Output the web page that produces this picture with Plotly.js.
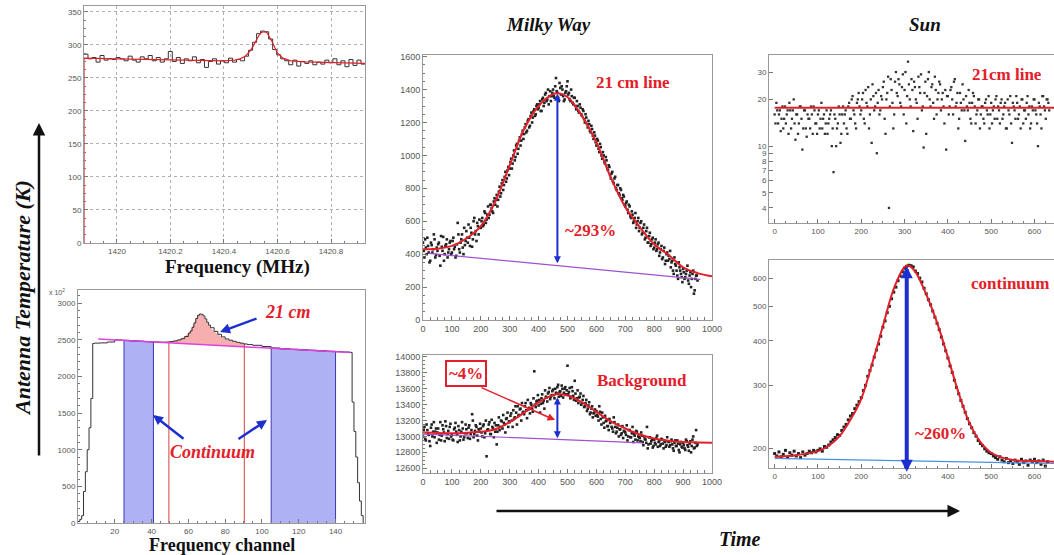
<!DOCTYPE html>
<html><head><meta charset="utf-8">
<script src="https://cdn.plot.ly/plotly-3.0.1.min.js"></script>
<style>html,body{margin:0;padding:0;background:#fff}#chart{width:1054px;height:555px}</style>
</head><body><div id="chart"></div>
<script>
// ---------- Panel 1: spectrum (MHz) ----------
const specStart = 1419.877, specBin = 0.015;
const specCounts = [286,279,281,274,284,277,279,278,281,279,276,283,277,274,282,279,284,276,281,274,279,290,275,281,272,279,276,282,273,278,266,275,279,271,276,273,280,274,278,276,283,292,304,317,321,320,309,293,285,279,276,270,277,268,275,272,276,270,274,271,277,273,279,270,276,267,278,269,277,271];
const specFitFreq = [1419.877,1419.877,1420.0,1420.2,1420.4,1420.44,1420.46,1420.48,1420.5,1420.51,1420.52,1420.53,1420.54,1420.55,1420.56,1420.57,1420.58,1420.59,1420.6,1420.62,1420.65,1420.7,1420.8,1420.927];
const specFitVal  = [0,280,279,277.5,276,277,279,283,292,299,307,314,319,320,319,313,305,296,288,280,276,274.5,273.5,272];
const freqTicks = [1420,1420.2,1420.4,1420.6,1420.8];

// ---------- Panel 2: frequency channels ----------
const chan = [0,1,2,3,4,5,6,7,8,9,12,16,20,24,28,32,36,40,44,46,48,50,52,54,56,58,60,61,62,63,64,65,66,67,68,69,70,71,72,74,76,78,80,82,84,86,88,90,92,95,100,105,110,115,120,125,130,135,140,144,148,149,150,151,152,153,154,155];
const chanVal = [20,50,100,430,700,1000,1300,1700,2450,2455,2458,2470,2498,2493,2487,2482,2476,2471,2468,2468,2470,2476,2485,2498,2515,2545,2590,2620,2670,2730,2790,2835,2852,2848,2825,2785,2740,2700,2665,2615,2575,2540,2512,2495,2480,2466,2455,2444,2435,2425,2408,2388,2378,2371,2364,2358,2351,2344,2338,2333,2328,1650,1250,900,550,300,100,0];
const lineCh = [49,50,52,54,56,58,60,61,62,63,64,65,66,67,68,69,70,71,72,74,76,78,80,82,84,86,88,90,91,91,49];
const lineVal = [2472,2476,2485,2498,2515,2545,2590,2620,2670,2730,2790,2835,2852,2848,2825,2785,2740,2700,2665,2615,2575,2540,2512,2495,2480,2466,2455,2444,2440,2404,2460];
const contLCh = [25,25,28,32,36,41,41];
const contLVal = [0,2493,2487,2482,2476,2470,0];
const contRCh = [105,105,110,115,120,125,130,135,140,140];
const contRVal = [0,2388,2378,2371,2364,2358,2351,2344,2338,0];
const windowCh = [49.4,49.4,null,90.4,90.4];
const windowVal = [0,2474,null,0,2442];
const chanBaseCh = [11,148];
const chanBaseVal = [2510,2328];
const chanTicks = [20,40,60,80,100,120,140];

// ---------- Panel 3: Milky Way 21 cm line (samples every 5, two interleaved sets) ----------
const mwStep = 5;
const mwLineA = [470,380,440,500,410,360,455,430,490,395, 420,470,330,445,505,400,460,380,430,480, 410,500,445,390,590,430,470,520,400,455, 540,470,500,560,445,600,520,480,570,610, 560,620,580,650,610,690,640,700,660,720, 700,760,730,810,770,850,820,900,860,930, 920,980,950,1030,990,1070,1040,1110,1090,1150, 1130,1190,1150,1220,1180,1260,1230,1280,1250,1310, 1290,1330,1270,1350,1320,1380,1340,1310,1390,1360, 1400,1350,1470,1380,1330,1410,1420,1360,1340,1390, 1450,1380,1330,1360,1310,1350,1280,1300,1260,1290, 1240,1270,1200,1230,1170,1190,1140,1160,1100,1120, 1060,1090,1020,1050,980,1000,950,970,910,930, 860,900,830,870,790,820,760,790,730,750, 690,720,650,690,620,640,600,650,580,620, 560,600,530,580,500,560,470,530,460,500, 440,490,430,470,410,450,380,440,360,410, 390,420,350,300,380,330,270,350,300,260, 310,250,280,330,220,290,250,300,180,270,240];
const mwLineB = [420,490,400,450,350,470,410,520,380,440, 460,390,510,420,360,450,490,410,470,400, 480,430,380,460,520,410,490,440,560,480, 500,580,450,530,490,620,540,590,520,560, 600,570,660,590,640,620,700,680,650,740, 730,690,780,750,830,790,870,840,910,880, 960,920,1000,970,1060,1010,1090,1060,1130,1100, 1170,1140,1210,1170,1240,1200,1270,1240,1300,1280, 1310,1270,1340,1300,1370,1330,1400,1360,1330,1380, 1360,1420,1390,1350,1440,1370,1400,1330,1380,1420, 1370,1340,1400,1320,1350,1300,1330,1270,1310,1250, 1280,1220,1250,1190,1210,1150,1180,1120,1140,1080, 1100,1040,1070,1000,1020,960,990,920,940,880, 890,840,860,800,820,770,800,740,760,700, 710,670,700,630,660,590,620,560,600,540, 590,520,560,490,540,470,510,450,490,430, 470,420,460,390,430,370,420,340,400,360, 370,320,360,280,340,300,250,320,280,230, 290,260,300,240,270,200,280,160,250,270];
const mwFitT = [0,50,100,150,200,250,300,350,400,450,468,500,550,600,650,700,750,800,850,900,950,1000];
const mwFitV = [430,433,450,495,570,720,940,1160,1300,1372,1377,1355,1240,1080,865,685,565,460,395,320,285,265];
const mwBaseT = [20,960];
const mwBaseV = [405,247];
const mwArrow = {t:465, lo:335, hi:1375};

// ---------- Panel 4: Milky Way background ----------
const bgLineA = [13000,13120,12950,13080,13020,12880,13150,13060,12990,13100, 13050,12960,13180,13010,13090,12940,13130,13030,12970,13160, 13020,12950,13110,13060,12930,13080,13000,13180,12960,13040, 13090,12980,13140,13030,13280,12990,13070,13120,12950,13060, 13100,13000,13150,13040,12750,13090,13180,13030,13120,12990, 13060,12900,13140,13080,13200,13100,13170,13050,13230,13120, 13180,13290,13120,13220,13380,13150,13260,13340,13200,13300, 13280,13420,13230,13340,13290,13400,13310,13820,13370,13450, 13390,13300,13480,13420,13350,13500,13440,13560,13470,13520, 13590,13480,13550,13620,13500,13570,13640,13490,13600,13530, 13890,13560,13480,13620,13510,13700,13450,13580,13490,13540, 13420,13510,13380,13460,13350,13430,13300,13380,13290,13340, 13320,13250,13380,13220,13300,13170,13260,13200,13130,13220, 13180,13100,13240,13120,13060,13150,13090,13020,13130,13070, 13050,13140,13000,13080,12990,13120,13030,12960,13060,13000, 12980,13050,12930,13000,12960,13120,12900,12990,12940,12860, 12960,12900,13010,12930,12880,12970,12910,12950,12870,12990, 12930,12890,12960,12850,12920,12880,12950,12830,12900,12870, 12920,12850,12960,12890,12820,12940,12880,13000,12860,13080,12900];
const bgLineB = [13080,12970,13150,13030,12940,13110,13000,13180,13060,12920, 13100,13020,12950,13140,13050,13190,12980,13070,13120,13000, 12960,13090,13170,13020,13130,12950,13060,13100,12990,13150, 13040,13110,12970,13080,13200,13030,13140,13010,13090,13160, 13050,13130,12990,13200,13080,13150,13030,13210,13100,13170, 13140,13060,13240,13120,13190,13270,13150,13220,13300,13190, 13260,13200,13330,13240,13300,13380,13270,13350,13420,13310, 13380,13330,13460,13360,13420,13350,13480,13400,13440,13520, 13460,13410,13530,13450,13580,13490,13540,13610,13500,13570, 13520,13600,13540,13650,13560,13510,13600,13550,13620,13580, 13530,13610,13500,13570,13460,13540,13480,13420,13500,13400, 13460,13370,13420,13320,13390,13280,13350,13240,13300,13260, 13270,13200,13310,13150,13240,13110,13190,13130,13080,13170, 13120,13060,13180,13040,13110,13000,13090,13040,12980,13060, 13020,12950,13080,12990,13040,12930,13010,13070,12950,12990, 12940,13010,12890,12970,12920,12850,12990,12910,12960,12880, 12920,12980,12870,12940,12900,12960,12850,12930,12890,12940, 12870,12940,12900,12820,12950,12880,12910,12800,12930,12860, 12890,12830,12940,12870,12910,12800,12960,12850,12920,12880];
const bgFitT = [0,100,200,250,300,350,400,450,470,500,550,600,650,700,750,800,850,900,950,1000];
const bgFitV = [13050,13040,13060,13090,13180,13300,13430,13520,13535,13515,13430,13310,13190,13100,13025,12975,12945,12930,12925,12920];
const bgBaseT = [0,760];
const bgBaseV = [13030,12920];
const bgArrow = {t:465, lo:12960, hi:13490};

// ---------- Panel 5: Sun 21 cm line (log), samples every 4, two interleaved sets ----------
const sunStep = 4;
const sunLineA = [16,19,14,17,15,13,18,16,12,17, 15,20,11,16,14,18,9.5,17,13,16, 15,18,12,17,14,16,13,19,15,12, 17,14,16,10,6.8,15,13,18,10.5,16, 14,17,12,19,15,21,16,13,20,18, 17,22,14,19,24,16,10.5,21,18,9, 23,17,20,26,12,22,4,27,19,16, 30,21,25,18,29,23,14,35,20,27, 12.5,24,19,28,22,17,9.8,26,21,30, 18,25,15,23,20,26,17,22,14,9.5, 21,18,24,16,27,19,13,22,17,20, 10.8,18,23,15,19,21,14,17,20,16, 18,14,20,16,13,19,17,15,21,18, 14,20,16,19,13,17,21,10.5,18,15, 19,16,13,20,17,15,21,18,14,17, 20,16,10,18,13,21,17,20,19];
const sunLineB = [14,17,16,12.5,18,15,14,17,19,13, 17,14,16,12,18,15,13,17,11.5,15, 13,16,18,14,12,17,15,13,16,14, 12,15,17,13,16,10,14,16,12,18, 16,13,18,15,20,17,14,19,22,16, 20,15,23,18,13,20,25,17,22,19, 16,21,24,15,20,28,18,23,13,26, 22,27,19,24,16,30,21,25,18,23, 26,20,15,24,29,18,22,12,27,20, 24,19,28,16,22,25,20,18,23,21, 16,23,20,26,18,22,15,19,25,17, 21,17,19,14,22,18,16,20,13,18, 15,19,17,21,16,14,18,20,15,17, 19,15,18,13,20,16,14,19,17,21, 15,18,20,14,17,19,16,13,18,20, 17,14,19,16,21,18,15,20,17];
const sunLineFitT = [0,645];
const sunLineFitV = [17.7,17.7];

// ---------- Panel 6: Sun continuum (log) ----------
const sunCStep = 5;
const sunCont = [193,190,195,189,192,197,188,194,191,196, 190,193,188,195,191,193,196,194,197,195, 197,199,196,202,201,204,208,211,214,218, 217,224,229,233,240,246,250,258,264,270, 277,290,300,318,330,342,360,377,392,412, 437,455,480,500,525,548,566,590,608,625, 640,648,652,650,645,628,618,600,585,562, 542,522,505,485,466,448,430,410,392,375, 358,340,326,310,296,284,272,262,252,242, 234,228,221,216,210,206,203,199,196,194, 193,190,188,186,189,185,183,187,182,184, 181,185,183,180,186,182,184,179,185,183, 186,182,184,180,185,178,183];
const sunFitT = [0,50,100,125,150,175,200,225,250,275,300,310,325,350,375,400,425,450,475,500,550,600,645];
const sunFitV = [189,191,196,203,216,240,275,345,440,560,645,650,625,540,450,360,285,235,208,194,185,184,183];
const sunBaseT = [0,645];
const sunBaseV = [187,181];
const sunArrow = {t:305, lo:170, hi:648};

// ---------- build ----------
const W = 1054, H = 555;
const px = x => x / W, py = y => 1 - y / H;
const dx = (a, b) => [a / W, b / W];
const dy = (top, bot) => [1 - bot / H, 1 - top / H];
const idx = (arr, step, off) => arr.map((_, i) => (off || 0) + i * step);

const specEdges = specCounts.map((_, i) => specStart + i * specBin).concat([specStart + specCounts.length * specBin]);
const specStepVals = specCounts.concat([specCounts[specCounts.length - 1]]);

const RED = '#e3202a', BLUE = '#1e2fd0';
const tickfont = {family: 'Liberation Sans, Arial, sans-serif', size: 8, color: '#555'};
const serif = 'Liberation Serif, Times New Roman, serif';
const dot = (c, s) => ({color: c, size: s, symbol: 'square'});

const traces = [
  // P1
  {x: specEdges, y: specStepVals, xaxis: 'x', yaxis: 'y', mode: 'lines', line: {color: '#333', width: 1, shape: 'hv'}},
  {x: specFitFreq, y: specFitVal, xaxis: 'x', yaxis: 'y', mode: 'lines', line: {color: RED, width: 1.2}},
  // P2
  {x: contLCh, y: contLVal, xaxis: 'x2', yaxis: 'y2', mode: 'lines', fill: 'toself', fillcolor: 'rgba(120,125,235,0.6)', line: {color: '#3a3ab0', width: 1}},
  {x: contRCh, y: contRVal, xaxis: 'x2', yaxis: 'y2', mode: 'lines', fill: 'toself', fillcolor: 'rgba(120,125,235,0.6)', line: {color: '#3a3ab0', width: 1}},
  {x: lineCh, y: lineVal, xaxis: 'x2', yaxis: 'y2', mode: 'lines', fill: 'toself', fillcolor: 'rgba(240,120,120,0.6)', line: {color: 'rgba(0,0,0,0)', width: 0}},
  {x: windowCh, y: windowVal, xaxis: 'x2', yaxis: 'y2', mode: 'lines', line: {color: '#d84040', width: 1}},
  {x: chan, y: chanVal, xaxis: 'x2', yaxis: 'y2', mode: 'lines', line: {color: '#333', width: 1, shape: 'hv'}},
  {x: chanBaseCh, y: chanBaseVal, xaxis: 'x2', yaxis: 'y2', mode: 'lines', line: {color: '#e040e0', width: 1.5}},
  // P3
  {x: idx(mwLineA, mwStep), y: mwLineA, xaxis: 'x3', yaxis: 'y3', mode: 'markers', marker: dot('#222', 2.6)},
  {x: idx(mwLineB, mwStep, 2.5), y: mwLineB, xaxis: 'x3', yaxis: 'y3', mode: 'markers', marker: dot('#222', 2.6)},
  {x: mwBaseT, y: mwBaseV, xaxis: 'x3', yaxis: 'y3', mode: 'lines', line: {color: '#a050d0', width: 1.2}},
  {x: mwFitT, y: mwFitV, xaxis: 'x3', yaxis: 'y3', mode: 'lines', line: {color: RED, width: 2, shape: 'spline'}},
  // P4
  {x: idx(bgLineA, mwStep), y: bgLineA, xaxis: 'x4', yaxis: 'y4', mode: 'markers', marker: dot('#222', 2.6)},
  {x: idx(bgLineB, mwStep, 2.5), y: bgLineB, xaxis: 'x4', yaxis: 'y4', mode: 'markers', marker: dot('#222', 2.6)},
  {x: bgBaseT, y: bgBaseV, xaxis: 'x4', yaxis: 'y4', mode: 'lines', line: {color: '#a050d0', width: 1.2}},
  {x: bgFitT, y: bgFitV, xaxis: 'x4', yaxis: 'y4', mode: 'lines', line: {color: RED, width: 2, shape: 'spline'}},
  // P5
  {x: idx(sunLineA, sunStep), y: sunLineA, xaxis: 'x5', yaxis: 'y5', mode: 'markers', marker: dot('#333', 2.3)},
  {x: idx(sunLineB, sunStep, 2), y: sunLineB, xaxis: 'x5', yaxis: 'y5', mode: 'markers', marker: dot('#333', 2.3)},
  {x: sunLineFitT, y: sunLineFitV, xaxis: 'x5', yaxis: 'y5', mode: 'lines', line: {color: RED, width: 2}},
  // P6
  {x: idx(sunCont, sunCStep), y: sunCont, xaxis: 'x6', yaxis: 'y6', mode: 'markers', marker: dot('#222', 3)},
  {x: sunBaseT, y: sunBaseV, xaxis: 'x6', yaxis: 'y6', mode: 'lines', line: {color: '#4a90e0', width: 1.2}},
  {x: sunFitT, y: sunFitV, xaxis: 'x6', yaxis: 'y6', mode: 'lines', line: {color: RED, width: 2, shape: 'spline'}}
];

function axis(domain, range, anchor, extra) {
  return Object.assign({
    domain: domain, range: range, anchor: anchor, showline: true, mirror: true,
    linecolor: '#999', linewidth: 1, zeroline: false, showgrid: false,
    ticks: 'inside', ticklen: 4, tickcolor: '#777', tickfont: tickfont, fixedrange: true
  }, extra || {});
}
const grid = {showgrid: true, gridcolor: '#b0b0b0', griddash: 'dot', gridwidth: 1};
const f9 = Object.assign({}, tickfont, {size: 9});

const layout = {
  width: W, height: H, margin: {l: 0, r: 0, t: 0, b: 0},
  paper_bgcolor: '#fff', plot_bgcolor: '#fff', showlegend: false,
  xaxis: axis(dx(84, 365), [1419.877, 1420.927], 'y', Object.assign({tickvals: freqTicks, ticktext: freqTicks.map(String), minor: {ticks: 'inside', ticklen: 2, dtick: 0.05, tick0: 1420, tickcolor: '#777'}}, grid)),
  yaxis: axis(dy(6, 243), [0, 359], 'x', Object.assign({dtick: 50, minor: {ticks: 'inside', ticklen: 2, dtick: 12.5, tickcolor: '#777'}}, grid)),
  xaxis2: axis(dx(78, 365), [0, 156], 'y2', {tickvals: chanTicks, ticklabelstandoff: 0, minor: {ticks: 'inside', ticklen: 2, dtick: 5, tickcolor: '#777'}}),
  yaxis2: axis(dy(290, 523), [0, 3180], 'x2', {dtick: 500, tickformat: 'd', minor: {ticks: 'inside', ticklen: 2, dtick: 100, tickcolor: '#777'}}),
  xaxis3: axis(dx(423, 712), [0, 1000], 'y3', {dtick: 100, tickfont: f9, minor: {ticks: 'inside', ticklen: 3, dtick: 25, tickcolor: '#777'}}),
  yaxis3: axis(dy(55, 320), [0, 1610], 'x3', {dtick: 200, tickformat: 'd', tickfont: f9, minor: {ticks: 'inside', ticklen: 2, dtick: 50, tickcolor: '#777'}}),
  xaxis4: axis(dx(423, 712), [0, 1000], 'y4', {dtick: 100, tickfont: f9, minor: {ticks: 'inside', ticklen: 3, dtick: 25, tickcolor: '#777'}}),
  yaxis4: axis(dy(355, 473), [12540, 14025], 'x4', {dtick: 200, tickformat: 'd', tickfont: f9, minor: {ticks: 'inside', ticklen: 2, dtick: 50, tickcolor: '#777'}}),
  xaxis5: axis(dx(769, 1054), [-13, 645], 'y5', {dtick: 100, tick0: 0, minor: {ticks: 'inside', ticklen: 2, dtick: 25, tickcolor: '#777'}}),
  yaxis5: axis(dy(55, 223), [0.505, 1.587], 'x5', {type: 'log', tickvals: [4,5,6,7,8,9,10,20,30], ticktext: ['4','5','6','7','8','9','10','20','30']}),
  xaxis6: axis(dx(769, 1054), [-13, 645], 'y6', {dtick: 100, tick0: 0, minor: {ticks: 'inside', ticklen: 2, dtick: 25, tickcolor: '#777'}}),
  yaxis6: axis(dy(260, 468), [2.245, 2.829], 'x6', {type: 'log', tickvals: [200,300,400,500,600], ticktext: ['200','300','400','500','600']}),
  annotations: []
};

const A = layout.annotations;
function txt(x, y, text, size, color, extra) {
  A.push(Object.assign({xref: 'paper', yref: 'paper', x: px(x), y: py(y), text: text, showarrow: false,
    xanchor: 'center', yanchor: 'middle', font: {family: serif, size: size, color: color || '#111'}}, extra || {}));
}
function arrowPx(hx, hy, tx, ty, color, width, size) {
  A.push({xref: 'paper', yref: 'paper', x: px(hx), y: py(hy), ax: tx - hx, ay: ty - hy, text: '',
    showarrow: true, arrowhead: 2, arrowsize: size || 1, arrowwidth: width || 2, arrowcolor: color});
}
function arrowData(xr, yr, x, y0, y1, color, width, size) {
  A.push({xref: xr, yref: yr, x: x, y: y1, axref: xr, ayref: yr, ax: x, ay: y0, text: '',
    showarrow: true, arrowhead: 2, arrowside: 'end+start', arrowsize: size, arrowwidth: width, arrowcolor: color});
}

// headings and axis titles
txt(237, 267, '<b>Frequency (MHz)</b>', 19);
txt(222, 555, '<b>Frequency channel</b>', 18, '#111', {yanchor: 'bottom', yshift: -2});
txt(548, 24, '<b><i>Milky Way</i></b>', 19);
txt(925, 24, '<b><i>Sun</i></b>', 19);
txt(740, 539, '<b><i>Time</i></b>', 20);
txt(22, 298, '<b><i>Antenna Temperature (K)</i></b>', 22, '#111', {textangle: -90});
txt(57, 292, 'x 10<sup>2</sup>', 7, '#555', {font: {family: 'Liberation Sans, Arial', size: 7, color: '#555'}});

// big arrows
arrowPx(39, 123, 39, 457, '#111', 2.5, 1);
arrowPx(960, 511, 495, 511, '#111', 2.5, 1);

// panel 2 labels
txt(288, 312, '<b><i>21 cm</i></b>', 18, RED);
txt(212, 452, '<b><i>Continuum</i></b>', 18, RED);
arrowPx(220, 332, 258, 318, BLUE, 2.5, 0.8);
arrowPx(153, 415, 185, 440, BLUE, 2.5, 0.8);
arrowPx(267, 420, 237, 440, BLUE, 2.5, 0.8);

// panel 3/4 labels
txt(633, 82, '<b>21 cm line</b>', 17, RED);
txt(590, 230, '<b>~293%</b>', 17, RED);
arrowData('x3', 'y3', mwArrow.t, mwArrow.lo, mwArrow.hi, BLUE, 2, 0.7);
txt(642, 380, '<b>Background</b>', 17, RED);
txt(466, 373, '<b>~4%</b>', 17, RED, {bordercolor: RED, borderwidth: 2, borderpad: 2, bgcolor: '#fff'});
arrowPx(555, 420, 480, 387, RED, 1.5, 1);
arrowData('x4', 'y4', bgArrow.t, bgArrow.lo, bgArrow.hi, BLUE, 2, 0.7);

// panel 5/6 labels
txt(1007, 75, '<b>21cm line</b>', 17, RED);
txt(1010, 283, '<b>continuum</b>', 17, RED);
txt(940, 433, '<b>~260%</b>', 17, RED);
arrowData('x6', 'y6', sunArrow.t, Math.log10(sunArrow.lo), Math.log10(sunArrow.hi), BLUE, 4, 0.6);

Plotly.newPlot('chart', traces, layout, {staticPlot: true, displayModeBar: false});
</script></body></html>
